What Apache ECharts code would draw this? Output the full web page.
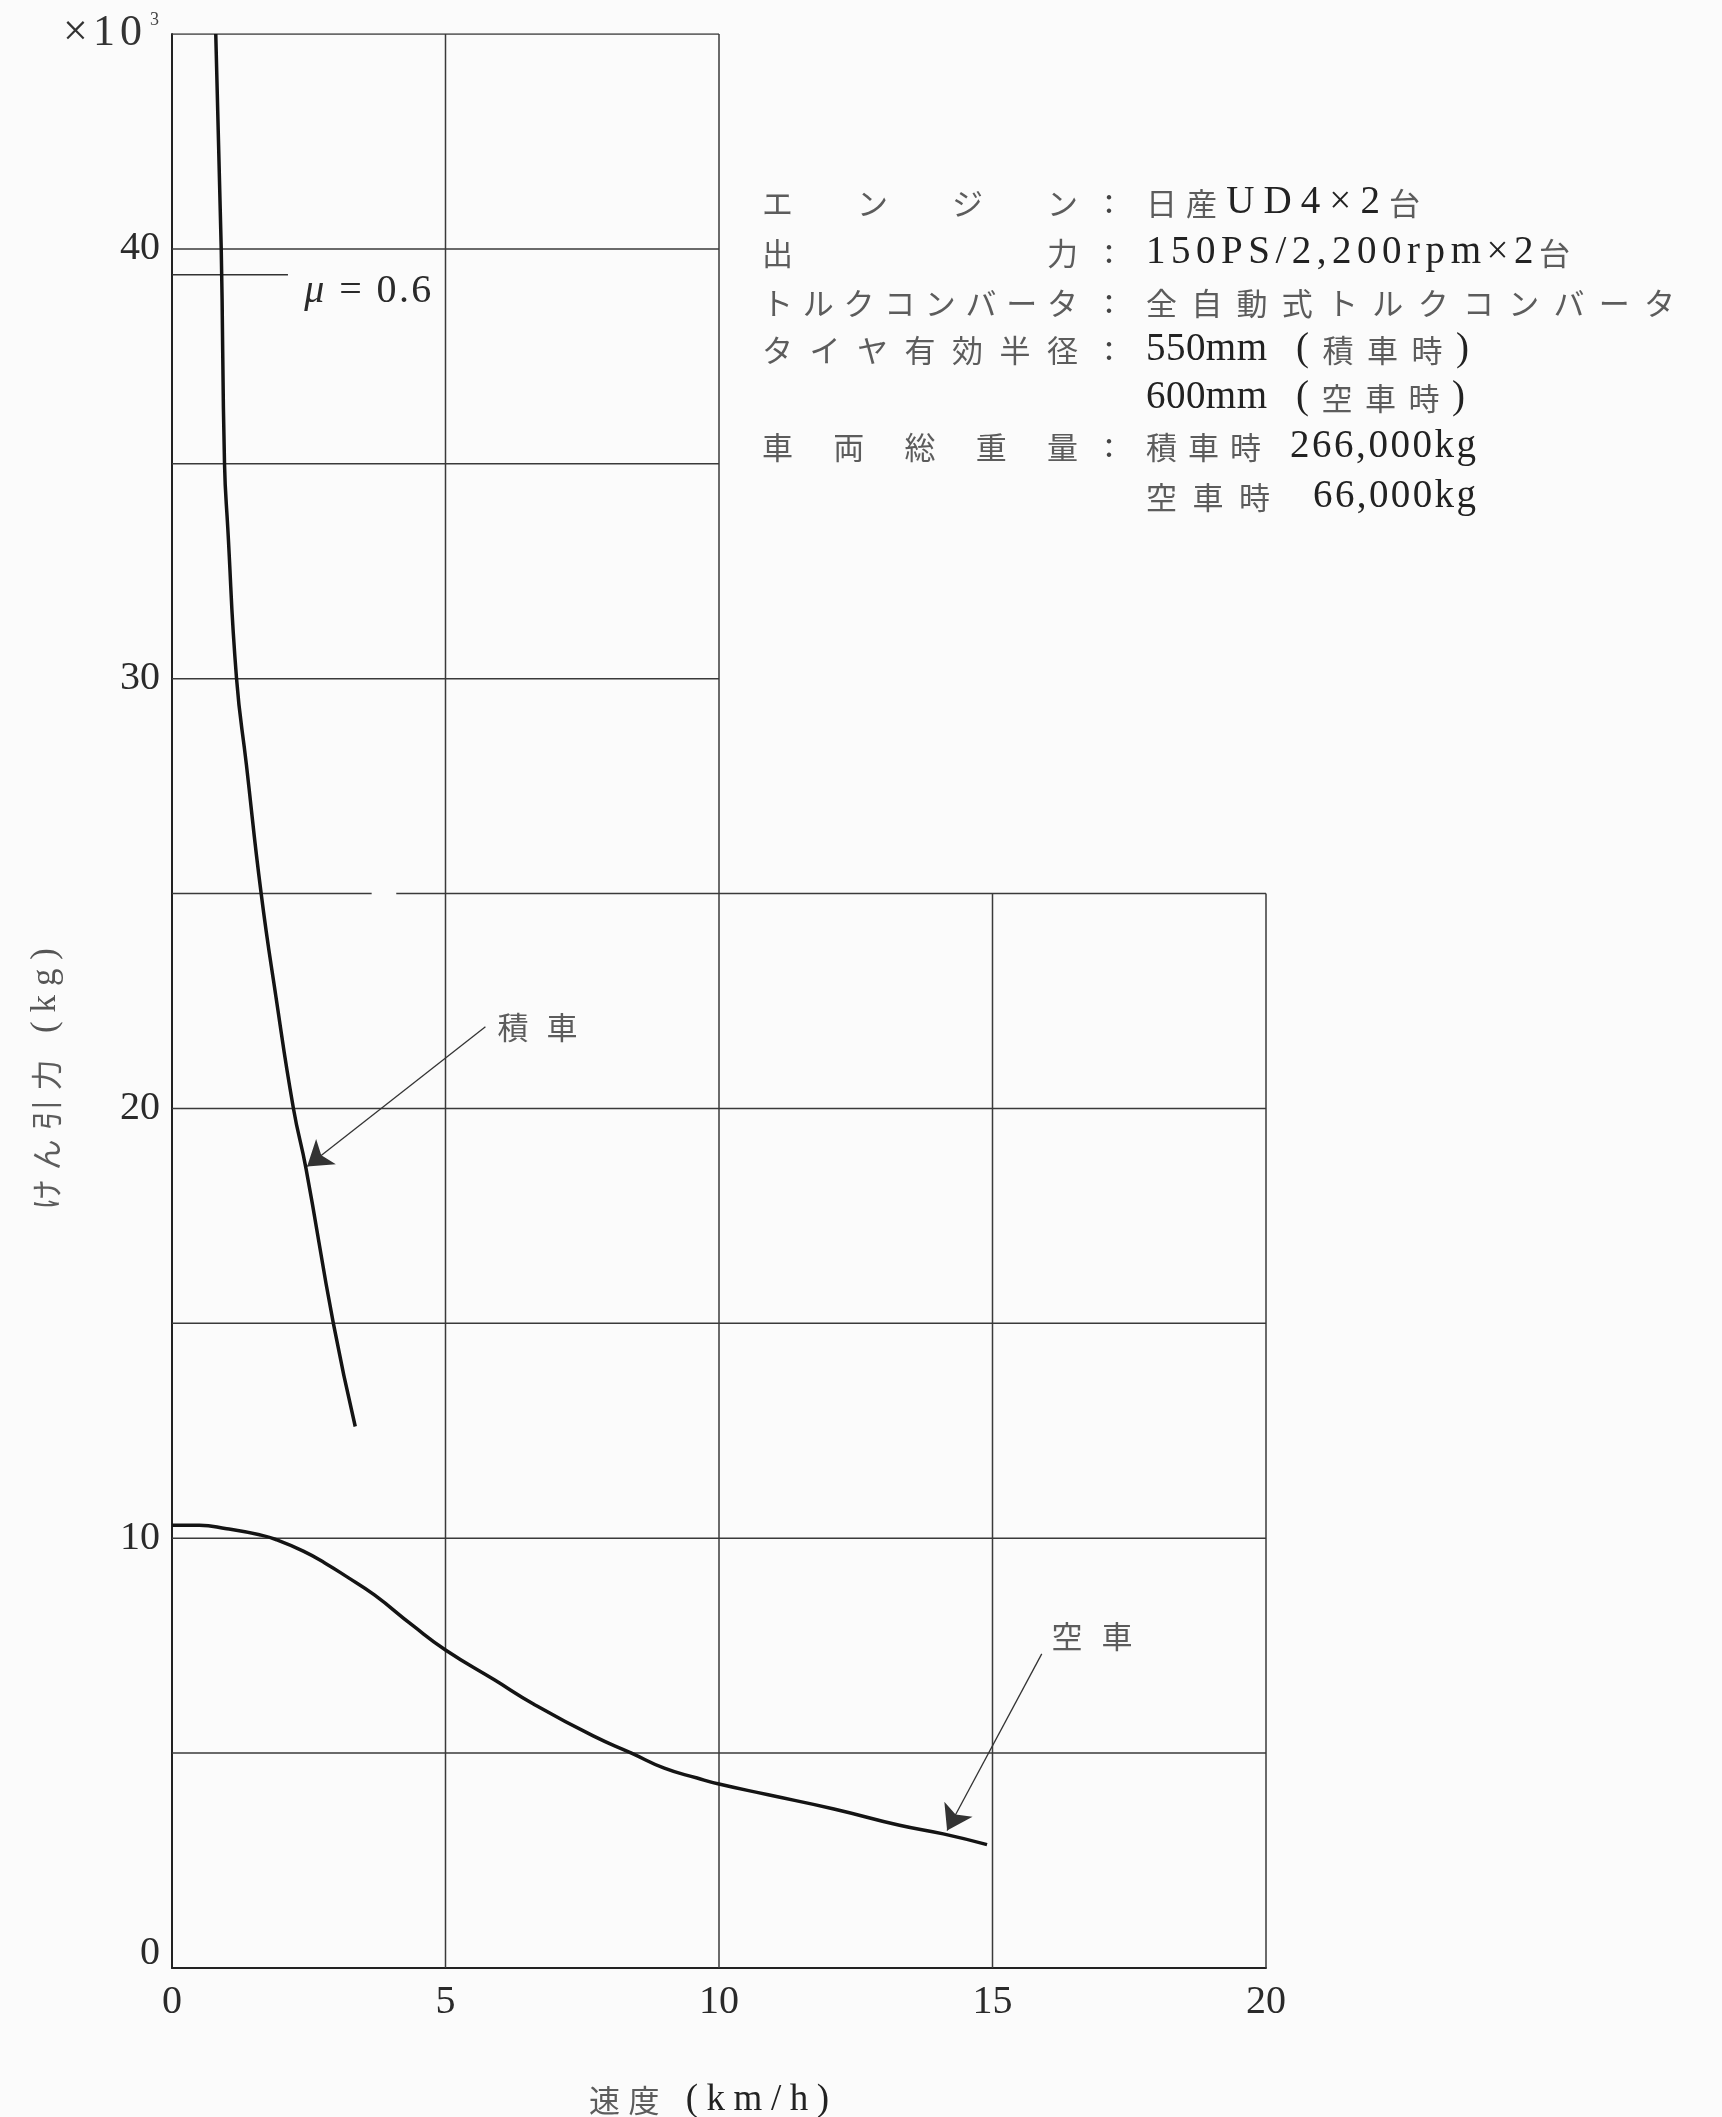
<!DOCTYPE html>
<html><head><meta charset="utf-8">
<script src="https://cdn.jsdelivr.net/npm/echarts@6/dist/echarts.min.js"></script>
<style>html,body{margin:0;padding:0;background:#fbfbfb}#c{width:1722px;height:2117px}</style>
</head><body><div id="c"></div>
<script>
// ---------- data ----------
const speedTicks = [0, 5, 10, 15, 20];
const forceTickLabels = [0, 10, 20, 30, 40];
const loadedSpeed = [0.8, 0.9, 0.96, 1.02, 1.18, 1.36, 1.63, 1.9, 2.22, 2.45, 2.95, 3.35];
const loadedForce = [45, 40, 35, 33.5, 30, 28, 25, 22.6, 20, 18.6, 15, 12.6];
const emptySpeed = [0, 0.5, 1.0, 1.6, 1.9, 2.4, 2.8, 3.2, 3.7, 4.4, 5.0, 5.9, 6.6, 7.7, 8.4, 9.0, 9.6, 10.0, 10.9, 12.1, 13.3, 14.1, 14.9];
const emptyForce = [10.3, 10.3, 10.22, 10.08, 9.97, 9.7, 9.42, 9.1, 8.68, 7.97, 7.4, 6.7, 6.15, 5.4, 5.0, 4.65, 4.42, 4.28, 4.03, 3.7, 3.32, 3.12, 2.87];
const muForce = 39.4;          // μ = 0.6 adhesion limit
const muSpeedEnd = 2.12;
const muText = 'μ = 0.6';
const loadedName = '積車';
const emptyName = '空車';
const loadedArrow = [[5.73, 21.9], [2.47, 18.65]];
const emptyArrow = [[15.9, 7.31], [14.17, 3.2]];
const loadedLabelAt = [5.95, 21.88];
const emptyLabelAt = [16.08, 7.72];
const muLabelAt = [2.42, 39.0];
const gridHoriz = [[5, 0, 20], [10, 0, 20], [15, 0, 20], [20, 0, 20], [25, 0, 3.65], [25, 4.1, 20], [30, 0, 10], [35, 0, 10], [40, 0, 10], [45, 0, 10]];
const gridVert = [[5, 0, 45], [10, 0, 45], [15, 0, 25], [20, 0, 25]];
const xTitle = '速度 (km/h)';
const yTitle = 'けん引力 (kg)';
const unitText = '×10';
const unitExp = '3';
const specLabels = ['エンジン', '出力', 'トルクコンバータ', 'タイヤ有効半径', '', '車両総重量', ''];
const specValues = [['日産UD4×2台'], ['150PS/2,200rpm×2台'], ['全自動式トルクコンバータ'], ['550mm', '(積車時)'], ['600mm', '(空車時)'], ['積車時', '266,000kg'], ['空車時', '66,000kg']];

// ---------- layout ----------
const specRowY = [203, 253, 303, 350, 398, 447, 497];
const specLabelSpan = [762, 1078];
const specColonX = 1109;
const specValueSpans = [[[1146, 1420]], [[1146, 1570]], [[1146, 1675]], [[1146, 1267], [1296, 1469]], [[1146, 1267], [1296, 1465]], [[1146, 1261], [1290, 1476]], [[1146, 1270], [1313, 1476]]];

const SERIF = '"Liberation Serif", "Noto Sans CJK JP", serif';
const CJKF = '"Noto Sans CJK JP", sans-serif';
const isCJK = c => /[\u3000-\u9fff\uff00-\uffef]/.test(c);
const mctx = document.createElement('canvas').getContext('2d');

function spaced(str, x0, x1, y, opt) {
  opt = opt || {};
  const cjkSize = opt.cjkSize || 30, latSize = opt.latSize || 34;
  const chars = Array.from(str);
  const fonts = chars.map(c => isCJK(c) ? (cjkSize + 'px ' + CJKF) : ((opt.italicMu && c === 'μ' ? 'italic ' : '') + latSize + 'px ' + SERIF));
  const widths = chars.map((c, i) => { mctx.font = fonts[i]; return mctx.measureText(c).width; });
  const total = widths.reduce((a, b) => a + b, 0);
  const gap = (x1 === null || chars.length < 2) ? 0 : (x1 - x0 - total) / (chars.length - 1);
  let x = x0;
  const els = [];
  chars.forEach((c, i) => {
    if (c !== ' ') {
      els.push({
        type: 'text', x: x, y: y, silent: true, z: 100,
        style: { text: c, font: fonts[i], fill: isCJK(c) ? (opt.cjkColor || '#5c5c5c') : (opt.latColor || '#222'),
                 textAlign: 'left', textVerticalAlign: 'middle', align: 'left', verticalAlign: 'middle' }
      });
    }
    x += widths[i] + gap;
  });
  return els;
}

// ---------- chart ----------
const chart = echarts.init(document.getElementById('c'), null, { renderer: 'canvas' });
const gridColor = '#3a3a3a';
const series = [];
gridHoriz.forEach(h => series.push({ type: 'line', data: [[h[1], h[0]], [h[2], h[0]]], symbol: 'none', silent: true, animation: false, z: 1, lineStyle: { color: gridColor, width: 1.5 } }));
gridVert.forEach(v => series.push({ type: 'line', data: [[v[0], v[1]], [v[0], v[2]]], symbol: 'none', silent: true, animation: false, z: 1, lineStyle: { color: gridColor, width: 1.5 } }));
series.push({ type: 'line', data: [[0, muForce], [muSpeedEnd, muForce]], symbol: 'none', silent: true, animation: false, z: 2, lineStyle: { color: '#333', width: 1.5 } });
series.push({ name: loadedName, type: 'line', data: loadedSpeed.map((s, i) => [s, loadedForce[i]]), smooth: 0.5, symbol: 'none', animation: false, z: 5, lineStyle: { color: '#141414', width: 3.5 } });
series.push({ name: emptyName, type: 'line', data: emptySpeed.map((s, i) => [s, emptyForce[i]]), smooth: 0.5, symbol: 'none', animation: false, z: 5, lineStyle: { color: '#141414', width: 3.5 } });
series.push({ type: 'lines', coordinateSystem: 'cartesian2d', silent: true, animation: false, z: 6,
  symbol: ['none', 'arrow'], symbolSize: [8, 24],
  lineStyle: { color: '#333', width: 1.3, opacity: 1 },
  data: [{ coords: loadedArrow }, { coords: emptyArrow }] });

chart.setOption({
  backgroundColor: '#fbfbfb',
  animation: false,
  grid: { left: 172, right: 456, top: 34, bottom: 149 },
  xAxis: {
    type: 'value', min: 0, max: 20, interval: 5,
    axisLine: { show: true, lineStyle: { color: '#222', width: 2 } },
    axisTick: { show: false }, splitLine: { show: false },
    axisLabel: { margin: 14, fontFamily: 'Liberation Serif', fontSize: 40, color: '#2a2a2a',
      formatter: v => speedTicks.includes(v) ? String(v) : '' }
  },
  yAxis: {
    type: 'value', min: 0, max: 45, interval: 5,
    axisLine: { show: true, lineStyle: { color: '#222', width: 2 } },
    axisTick: { show: false }, splitLine: { show: false },
    axisLabel: { margin: 12, fontFamily: 'Liberation Serif', fontSize: 40, color: '#2a2a2a',
      rich: { z: { fontFamily: 'Liberation Serif', fontSize: 40, color: '#2a2a2a', padding: [0, 0, 30, 0] } },
      formatter: v => forceTickLabels.includes(v) ? (v === 0 ? '{z|0}' : String(v)) : '' }
  },
  series: series
});

// ---------- text annotations ----------
const px = p => chart.convertToPixel({ gridIndex: 0 }, p);
const els = [];
// spec block
specLabels.forEach((lab, r) => {
  const y = specRowY[r];
  if (lab) {
    els.push(...spaced(lab, specLabelSpan[0], specLabelSpan[1], y, { cjkSize: 31 }));
    els.push({ type: 'text', x: specColonX, y: y, silent: true, z: 100,
      style: { text: ':', font: '38px ' + SERIF, fill: '#444', textAlign: 'center', textVerticalAlign: 'middle', align: 'center', verticalAlign: 'middle' } });
  }
  specValues[r].forEach((t, k) => {
    const sp = specValueSpans[r][k];
    els.push(...spaced(t, sp[0], sp[1], y, { cjkSize: 31, latSize: 39 }));
  });
});
// curve labels
const lp = px(loadedLabelAt), ep = px(emptyLabelAt), mp = px(muLabelAt);
els.push(...spaced(loadedName, lp[0], lp[0] + 80, lp[1], { cjkSize: 31 }));
els.push(...spaced(emptyName, ep[0], ep[0] + 81, ep[1], { cjkSize: 31 }));
els.push(...spaced(muText, mp[0], mp[0] + 127, mp[1], { latSize: 40, italicMu: true, latColor: '#2a2a2a' }));
// axis titles
els.push(...spaced(xTitle, 589, 829, 2100, { cjkSize: 31, latSize: 37 }));
els.push({ type: 'group', x: 46, y: 1079, rotation: Math.PI / 2, silent: true,
  children: spaced(yTitle, -131, 131, 0, { cjkSize: 31, latSize: 35, latColor: '#555' }) });
// unit
els.push(...spaced(unitText, 63, 142, 33, { latSize: 44, latColor: '#333' }));
els.push({ type: 'text', x: 150, y: 20, silent: true, z: 100,
  style: { text: unitExp, font: '18px ' + SERIF, fill: '#444', textAlign: 'left', textVerticalAlign: 'middle', align: 'left', verticalAlign: 'middle' } });

chart.setOption({ graphic: { elements: els } });
</script>
</body></html>
